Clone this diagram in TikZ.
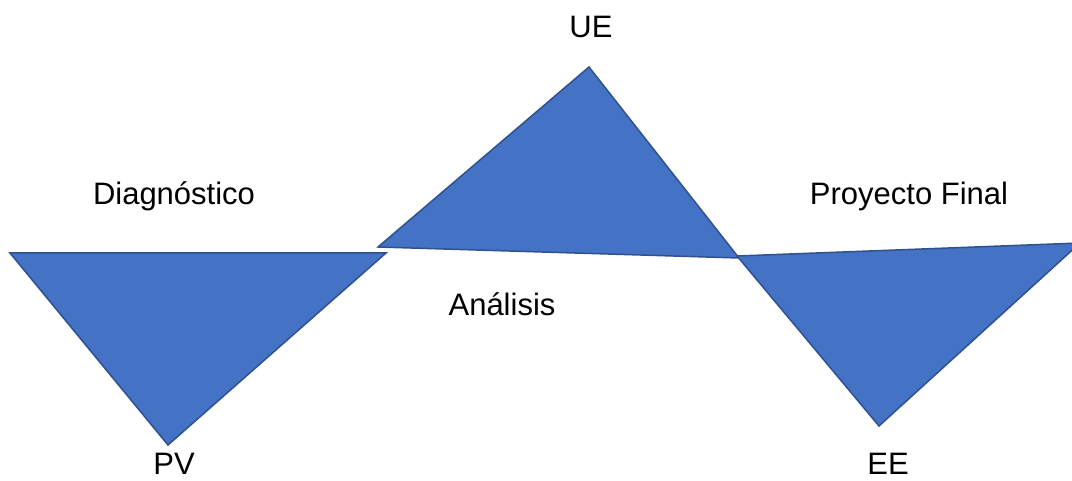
\documentclass[tikz,border=0pt]{standalone}
\usepackage{fontspec}
\setmainfont{Liberation Sans}
\definecolor{trifill}{HTML}{4472C4}
\definecolor{triline}{HTML}{2F528F}
\begin{document}
\begin{tikzpicture}[x=1pt,y=-1pt,
  tri/.style={fill=trifill,draw=triline,line width=1.5pt,line join=miter},
  lbl/.style={anchor=base,inner sep=0pt,font=\fontsize{31}{36}\selectfont,text=black}]
\useasboundingbox (0,0) rectangle (1072,481);
\clip (0,0) rectangle (1072,481);
% vertices
\coordinate (L1) at (10,253);
\coordinate (L2) at (386,253);
\coordinate (L3) at (168,445);
\coordinate (M1) at (378,247);
\coordinate (M2) at (589,67);
\coordinate (M3) at (739,258);
\coordinate (R1) at (737,256);
\coordinate (R2) at (1080,243);
\coordinate (R3) at (879,426);
% triangles
\draw[tri] (L1) -- (L2) -- (L3) -- cycle;
\draw[tri] (M1) -- (M2) -- (M3) -- cycle;
\draw[tri] (R1) -- (R2) -- (R3) -- cycle;
% labels
\node[lbl] (ue) at (591,38) {UE};
\node[lbl] (diag) at (174,205) {Diagnóstico};
\node[lbl] (pf) at (909,205) {Proyecto Final};
\node[lbl] (an) at (502,316) {Análisis};
\node[lbl] (pv) at (174,474) {PV};
\node[lbl] (ee) at (888,474) {EE};
\end{tikzpicture}
\end{document}
